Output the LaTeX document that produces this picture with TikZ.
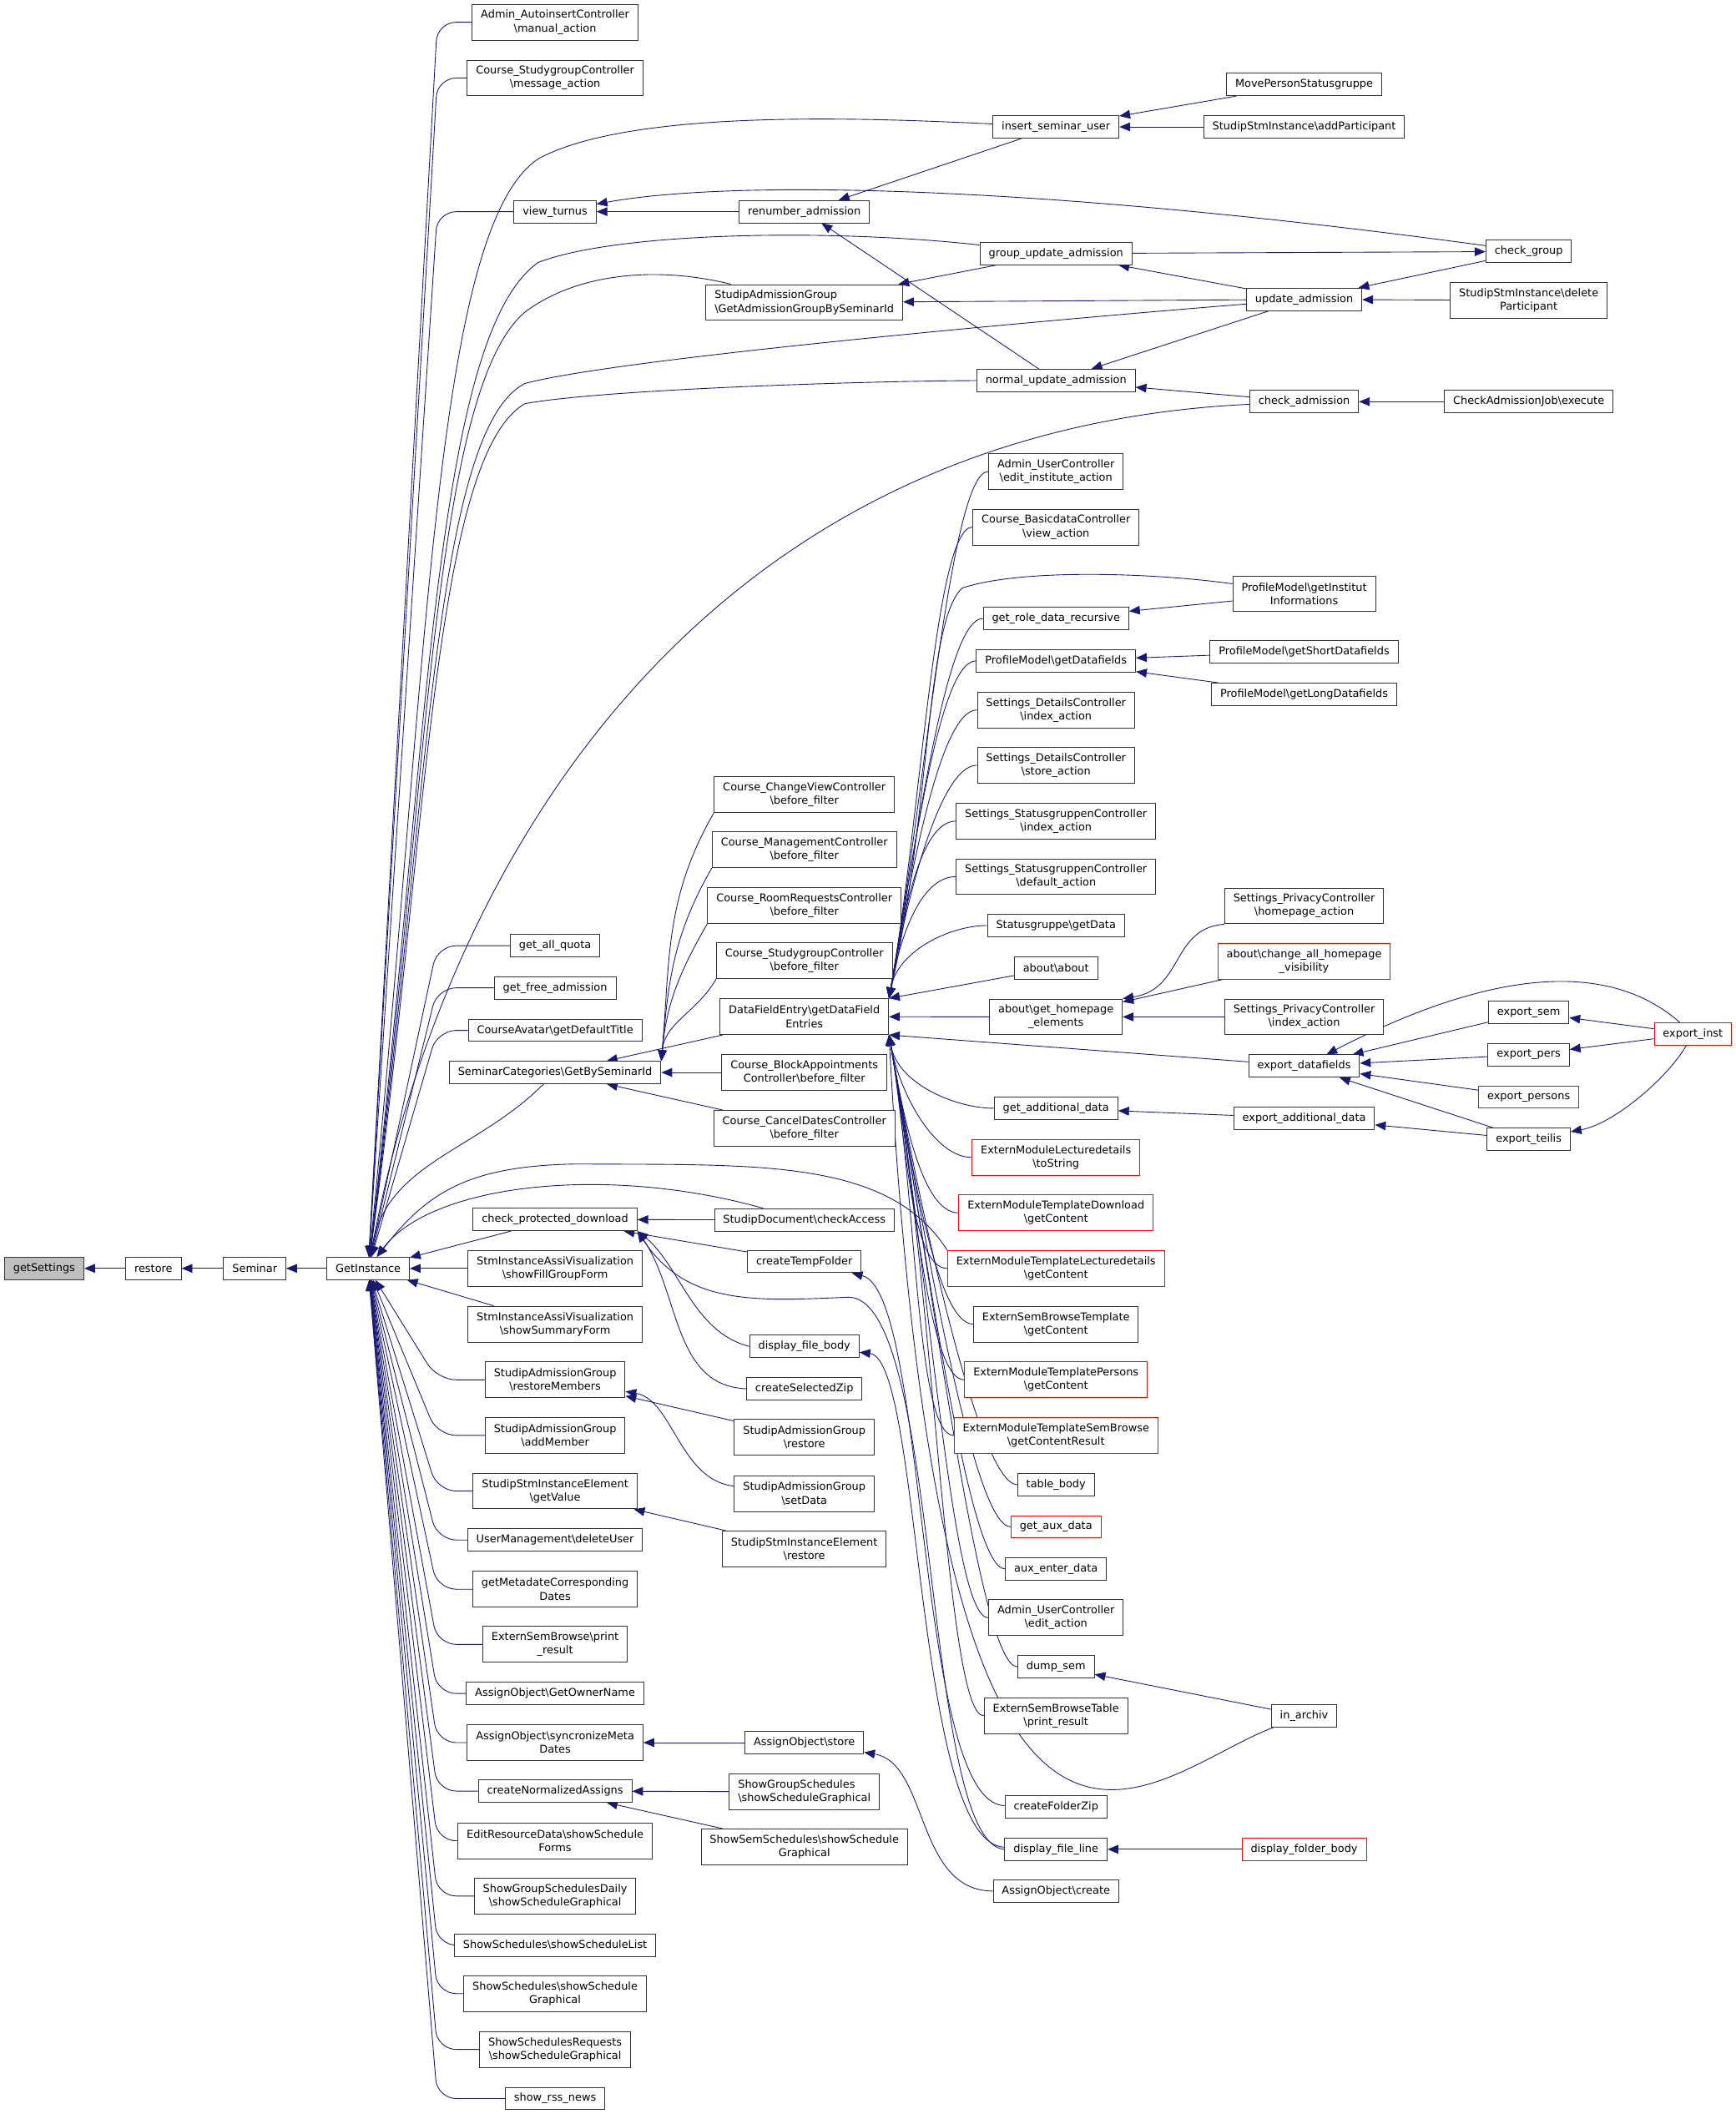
\documentclass[tikz,border=0pt]{standalone}
\usepackage{fontspec}
\setmainfont{DejaVu Sans}
\usetikzlibrary{arrows.meta}
\definecolor{edgeblue}{RGB}{25,25,112}
\newcommand{\bsl}{\textbackslash}
\pgfdeclarelayer{background}
\pgfsetlayers{background,main}

\begin{document}
\begin{tikzpicture}[x=1pt,y=1pt,>={Triangle[length=8pt,width=6.5pt]},
    fn/.style={draw=black!80,line width=0.6pt,fill=white,font=\fontsize{8}{10}\selectfont,align=center,inner xsep=6.5pt,inner ysep=2pt,minimum height=16.6pt},
    two/.style={minimum height=26.6pt},
    ext/.style={fn,draw=red},
    root/.style={fn,fill=black!25},
    call/.style={<-,draw=edgeblue,line width=0.55pt},
    fan/.style={call,rounded corners=14pt},
    field up/.style={call,out=80,in=180,in distance=28pt},
    field down/.style={call,out=-80,in=180,in distance=28pt}]

\useasboundingbox (0,0) rectangle (1290,-1571);
\coordinate (bend) at (325,0);

% main chain
\node[root] (getSettings) at (32.8,-942.6) {getSettings};
\node[fn] (restore) at (114,-942.6) {restore};
\node[fn] (Seminar) at (189.3,-942.6) {Seminar};
\node[fn] (GetInstance) at (273.6,-942.6) {GetInstance};

% direct callers of GetInstance
\node[fn,two] (autoinsert) at (412.5,-16.5) {Admin\_AutoinsertController\\\bsl manual\_action};
\node[fn,two] (sgmessage) at (412.5,-58) {Course\_StudygroupController\\\bsl message\_action};
\node[fn] (viewturnus) at (412.5,-157.3) {view\_turnus};
\node[fn] (allquota) at (412.5,-702.8) {get\_all\_quota};
\node[fn] (freeadmission) at (412.5,-734.1) {get\_free\_admission};
\node[fn] (avatartitle) at (412.5,-765.7) {CourseAvatar\bsl getDefaultTitle};
\node[fn] (bysemid) at (412.5,-797) {SeminarCategories\bsl GetBySeminarId};
\node[fn] (protdownload) at (412.5,-906.3) {check\_protected\_download};
\node[fn,two] (fillgroup) at (412.5,-942.6) {StmInstanceAssiVisualization\\\bsl showFillGroupForm};
\node[fn,two] (summaryform) at (412.5,-984) {StmInstanceAssiVisualization\\\bsl showSummaryForm};
\node[fn,two] (restoremembers) at (412.5,-1025.4) {StudipAdmissionGroup\\\bsl restoreMembers};
\node[fn,two] (addmember) at (412.5,-1066.7) {StudipAdmissionGroup\\\bsl addMember};
\node[fn,two] (getvalue) at (412.5,-1108) {StudipStmInstanceElement\\\bsl getValue};
\node[fn] (deleteuser) at (412.5,-1144.4) {UserManagement\bsl deleteUser};
\node[fn,two] (metadates) at (412.5,-1181) {getMetadateCorresponding\\Dates};
\node[fn,two] (printresult) at (412.5,-1222) {ExternSemBrowse\bsl print\\\_result};
\node[fn] (ownername) at (412.5,-1258.5) {AssignObject\bsl GetOwnerName};
\node[fn,two] (syncmeta) at (412.5,-1295) {AssignObject\bsl syncronizeMeta\\Dates};
\node[fn] (normassigns) at (412.5,-1331) {createNormalizedAssigns};
\node[fn,two] (resforms) at (412.5,-1368) {EditResourceData\bsl showSchedule\\Forms};
\node[fn,two] (groupdaily) at (412.5,-1409) {ShowGroupSchedulesDaily\\\bsl showScheduleGraphical};
\node[fn] (schedlist) at (412.5,-1445.5) {ShowSchedules\bsl showScheduleList};
\node[fn,two] (schedgraph) at (412.5,-1481.5) {ShowSchedules\bsl showSchedule\\Graphical};
\node[fn,two] (schedrequests) at (412.5,-1523) {ShowSchedulesRequests\\\bsl showScheduleGraphical};
\node[fn] (rssnews) at (412.5,-1559.5) {show\_rss\_news};

% second column
\node[fn] (renumber) at (597.7,-157.3) {renumber\_admission};
\node[fn,two,align=left] (getadmgroup) at (597.7,-224.8) {StudipAdmissionGroup\\\bsl GetAdmissionGroupBySeminarId};
\node[fn,two] (changeview) at (597.7,-590.5) {Course\_ChangeViewController\\\bsl before\_filter};
\node[fn,two] (management) at (597.7,-631.5) {Course\_ManagementController\\\bsl before\_filter};
\node[fn,two] (roomrequests) at (597.7,-673) {Course\_RoomRequestsController\\\bsl before\_filter};
\node[fn,two] (sgfilter) at (597.7,-714) {Course\_StudygroupController\\\bsl before\_filter};
\node[fn,two] (datafieldentries) at (597.7,-755.5) {DataFieldEntry\bsl getDataField\\Entries};
\node[fn,two] (blockappointments) at (597.7,-797) {Course\_BlockAppointments\\Controller\bsl before\_filter};
\node[fn,two] (canceldates) at (597.7,-838.5) {Course\_CancelDatesController\\\bsl before\_filter};
\node[fn] (checkaccess) at (597.7,-906.5) {StudipDocument\bsl checkAccess};
\node[fn] (tempfolder) at (597.7,-937.5) {createTempFolder};
\node[fn] (filebody) at (597.7,-1000.5) {display\_file\_body};
\node[fn] (selectedzip) at (597.7,-1032) {createSelectedZip};
\node[fn,two] (admrestore) at (597.7,-1068) {StudipAdmissionGroup\\\bsl restore};
\node[fn,two] (admsetdata) at (597.7,-1110) {StudipAdmissionGroup\\\bsl setData};
\node[fn,two] (elemrestore) at (597.7,-1151) {StudipStmInstanceElement\\\bsl restore};
\node[fn] (assignstore) at (597.7,-1295) {AssignObject\bsl store};
\node[fn,two,align=left] (groupgraph) at (597.7,-1331.5) {ShowGroupSchedules\\\bsl showScheduleGraphical};
\node[fn,two] (semgraph) at (597.7,-1372.5) {ShowSemSchedules\bsl showSchedule\\Graphical};

% third column
\node[fn] (insertuser) at (784.7,-94.3) {insert\_seminar\_user};
\node[fn] (groupupdate) at (784.7,-188.4) {group\_update\_admission};
\node[fn] (normalupdate) at (784.7,-282.7) {normal\_update\_admission};
\node[fn,two] (editinstitute) at (784.7,-350.4) {Admin\_UserController\\\bsl edit\_institute\_action};
\node[fn,two] (basicdata) at (784.7,-391.7) {Course\_BasicdataController\\\bsl view\_action};
\node[fn] (roledata) at (784.7,-459.6) {get\_role\_data\_recursive};
\node[fn] (getdatafields) at (784.7,-491.1) {ProfileModel\bsl getDatafields};
\node[fn,two] (detailsindex) at (784.7,-527.6) {Settings\_DetailsController\\\bsl index\_action};
\node[fn,two] (detailsstore) at (784.7,-568.7) {Settings\_DetailsController\\\bsl store\_action};
\node[fn,two] (statusindex) at (784.7,-610.2) {Settings\_StatusgruppenController\\\bsl index\_action};
\node[fn,two] (statusdefault) at (784.7,-651.5) {Settings\_StatusgruppenController\\\bsl default\_action};
\node[fn] (statusgetdata) at (784.7,-687.8) {Statusgruppe\bsl getData};
\node[fn] (aboutabout) at (784.7,-719.3) {about\bsl about};
\node[fn,two] (homepageelements) at (784.7,-755.7) {about\bsl get\_homepage\\\_elements};
\node[fn] (additionaldata) at (784.7,-823.6) {get\_additional\_data};
\node[ext,two] (lecturetostring) at (784.7,-860.1) {ExternModuleLecturedetails\\\bsl toString};
\node[ext,two] (tpldownload) at (784.7,-901.3) {ExternModuleTemplateDownload\\\bsl getContent};
\node[ext,two] (tpllecture) at (784.7,-942.6) {ExternModuleTemplateLecturedetails\\\bsl getContent};
\node[fn,two] (browsetemplate) at (784.7,-984) {ExternSemBrowseTemplate\\\bsl getContent};
\node[ext,two] (tplpersons) at (784.7,-1025.4) {ExternModuleTemplatePersons\\\bsl getContent};
\node[ext,two] (tplsembrowse) at (784.7,-1066.7) {ExternModuleTemplateSemBrowse\\\bsl getContentResult};
\node[fn] (tablebody) at (784.7,-1103.3) {table\_body};
\node[ext] (auxdata) at (784.7,-1134.6) {get\_aux\_data};
\node[fn] (auxenter) at (784.7,-1165.9) {aux\_enter\_data};
\node[fn,two] (editaction) at (784.7,-1202.2) {Admin\_UserController\\\bsl edit\_action};
\node[fn] (dumpsem) at (784.7,-1238.6) {dump\_sem};
\node[fn,two] (tableprint) at (784.7,-1275.1) {ExternSemBrowseTable\\\bsl print\_result};
\node[fn] (folderzip) at (784.7,-1342.9) {createFolderZip};
\node[fn] (fileline) at (784.7,-1374.3) {display\_file\_line};
\node[fn] (assigncreate) at (784.7,-1405.6) {AssignObject\bsl create};

% fourth column
\node[fn] (movestatus) at (969.1,-62.8) {MovePersonStatusgruppe};
\node[fn] (addparticipant) at (969.1,-94.3) {StudipStmInstance\bsl addParticipant};
\node[fn] (updateadmission) at (969.1,-222.5) {update\_admission};
\node[fn] (checkadmission) at (969.1,-298.5) {check\_admission};
\node[fn,two] (institutinfo) at (969.1,-441.3) {ProfileModel\bsl getInstitut\\Informations};
\node[fn] (shortdatafields) at (969.1,-484.4) {ProfileModel\bsl getShortDatafields};
\node[fn] (longdatafields) at (969.1,-516) {ProfileModel\bsl getLongDatafields};
\node[fn,two] (privacyhomepage) at (969.1,-673.2) {Settings\_PrivacyController\\\bsl homepage\_action};
\node[ext,two] (changevisibility) at (969.1,-714.3) {about\bsl change\_all\_homepage\\\_visibility};
\node[fn,two] (privacyindex) at (969.1,-755.7) {Settings\_PrivacyController\\\bsl index\_action};
\node[fn] (exportdatafields) at (969.1,-792.2) {export\_datafields};
\node[fn] (exportadditional) at (969.1,-831) {export\_additional\_data};
\node[fn] (inarchiv) at (969.1,-1275.1) {in\_archiv};
\node[ext] (folderbody) at (969.1,-1374.3) {display\_folder\_body};

% fifth column
\node[fn] (checkgroup) at (1136,-186.9) {check\_group};
\node[fn,two] (deleteparticipant) at (1136,-223.2) {StudipStmInstance\bsl delete\\Participant};
\node[fn] (admissionjob) at (1136,-298.5) {CheckAdmissionJob\bsl execute};
\node[fn] (exportsem) at (1136,-752.4) {export\_sem};
\node[fn] (exportpers) at (1136,-783.7) {export\_pers};
\node[ext] (exportpersons) at (1136,-815.3) {export\_persons};
\node[fn] (exportteilis) at (1136,-846.7) {export\_teilis};
\node[ext] (exportinst) at (1258,-768.3) {export\_inst};

\begin{pgfonlayer}{background}
% chain
\draw[call] (getSettings) -- (restore);
\draw[call] (restore) -- (Seminar);
\draw[call] (Seminar) -- (GetInstance);

% GetInstance fan
\foreach \n in {autoinsert,sgmessage,viewturnus,allquota,freeadmission,avatartitle,restoremembers,addmember,getvalue,deleteuser,metadates,printresult,ownername,syncmeta,normassigns,resforms,groupdaily,schedlist,schedgraph,schedrequests,rssnews}
  \draw[fan] (GetInstance) -- (\n.west -| bend) -- (\n.west);
\draw[call] (GetInstance) to[out=80,in=-135] (bysemid);
\draw[call] (GetInstance) -- (protdownload);
\draw[call] (GetInstance) -- (fillgroup);
\draw[call] (GetInstance) -- (summaryform);
\draw[call] (GetInstance) .. controls (318,-500) and (322,-170) .. (400,-118) .. controls (470,-80) and (650,-88) .. (insertuser);
\draw[call] (GetInstance) .. controls (318,-560) and (322,-250) .. (400,-195) .. controls (460,-172) and (620,-170) .. (groupupdate);
\draw[call] (GetInstance) .. controls (318,-580) and (322,-290) .. (390,-232) .. controls (430,-202) and (490,-198) .. (getadmgroup);
\draw[call] (GetInstance) .. controls (318,-600) and (322,-320) .. (390,-285) .. controls (460,-266) and (800,-236) .. (updateadmission);
\draw[call] (GetInstance) .. controls (318,-620) and (322,-340) .. (390,-300) .. controls (450,-289) and (650,-283) .. (normalupdate);
\draw[call] (GetInstance) .. controls (330,-640) and (520,-320) .. (checkadmission);
\draw[call] (GetInstance) .. controls (320,-880) and (450,-865) .. (checkaccess);
\draw[call] (GetInstance) .. controls (318,-885) and (350,-866) .. (430,-865) .. controls (560,-866) and (660,-860) .. (tpllecture.north west);

% second column links
\draw[call] (viewturnus) -- (renumber);
\draw[call] (viewturnus) .. controls (540,-134) and (760,-136) .. (checkgroup);
\foreach \n in {changeview,management,roomrequests,sgfilter}
  \draw[call] (bysemid.north east) to[out=85,in=-120] (\n.south west);
\draw[call] (bysemid) -- (datafieldentries);
\draw[call] (bysemid) -- (blockappointments);
\draw[call] (bysemid) -- (canceldates);
\draw[call] (protdownload) -- (checkaccess);
\draw[call] (protdownload) -- (tempfolder);
\draw[call] (protdownload.south east) .. controls (505,-940) and (515,-990) .. (filebody.west);
\draw[call] (protdownload.south east) .. controls (505,-960) and (500,-1030) .. (selectedzip.west);
\draw[call] (protdownload.south east) .. controls (510,-970) and (560,-967) .. (630,-964) .. controls (700,-962) and (685,-1370) .. (fileline.west);
\draw[call] (restoremembers) -- (admrestore);
\draw[call] (restoremembers) .. controls (500,-1040) and (505,-1100) .. (admsetdata);
\draw[call] (getvalue) -- (elemrestore);
\draw[call] (syncmeta) -- (assignstore);
\draw[call] (normassigns) -- (groupgraph);
\draw[call] (normassigns) -- (semgraph);

% third column links
\draw[call] (renumber) -- (insertuser);
\draw[call] (renumber) -- (normalupdate);
\draw[call] (getadmgroup) -- (groupupdate);
\draw[call] (getadmgroup) -- (updateadmission);
\foreach \n in {editinstitute,basicdata,roledata,getdatafields,detailsindex,detailsstore,statusindex,statusdefault,statusgetdata}
  \draw[field up] (datafieldentries.north east) to (\n.west);
\foreach \n in {additionaldata,lecturetostring,tpldownload,tpllecture,browsetemplate,tplpersons,tplsembrowse,tablebody,auxdata,auxenter,editaction,dumpsem,tableprint}
  \draw[field down] (datafieldentries.south east) to (\n.west);
\draw[call] (datafieldentries.north east) -- (aboutabout);
\draw[call] (datafieldentries) -- (homepageelements);
\draw[call] (datafieldentries.south east) -- (exportdatafields);
\draw[call] (datafieldentries.north east) .. controls (692,-600) and (688,-462) .. (715,-437) .. controls (760,-422) and (860,-426) .. (institutinfo);
\draw[call] (datafieldentries.south east) .. controls (700,-1500) and (850,-1320) .. (inarchiv);
\draw[call] (tempfolder) .. controls (690,-960) and (680,-1340) .. (folderzip);
\draw[call] (filebody) .. controls (685,-1010) and (680,-1370) .. (fileline);
\draw[call] (assignstore) .. controls (690,-1310) and (680,-1405) .. (assigncreate);

% fourth and fifth column links
\draw[call] (insertuser) -- (movestatus);
\draw[call] (insertuser) -- (addparticipant);
\draw[call] (groupupdate) -- (updateadmission);
\draw[call] (checkgroup) -- (groupupdate);
\draw[call] (normalupdate) -- (updateadmission);
\draw[call] (normalupdate) -- (checkadmission);
\draw[call] (updateadmission) -- (checkgroup);
\draw[call] (updateadmission) -- (deleteparticipant);
\draw[call] (checkadmission) -- (admissionjob);
\draw[call] (roledata) -- (institutinfo);
\draw[call] (getdatafields) -- (shortdatafields);
\draw[call] (getdatafields) -- (longdatafields);
\draw[call] (homepageelements.north east) .. controls (880,-735) and (870,-690) .. (privacyhomepage.south west);
\draw[call] (homepageelements) -- (changevisibility);
\draw[call] (homepageelements) -- (privacyindex);
\draw[call] (additionaldata) -- (exportadditional);
\draw[call] (dumpsem) -- (inarchiv);
\draw[call] (fileline) -- (folderbody);
\draw[call] (exportdatafields) -- (exportsem);
\draw[call] (exportdatafields) -- (exportpers);
\draw[call] (exportdatafields) -- (exportpersons);
\draw[call] (exportdatafields) -- (exportteilis);
\draw[call] (exportdatafields) .. controls (1070,-740) and (1180,-700) .. (exportinst);
\draw[call] (exportadditional) -- (exportteilis);
\draw[call] (exportsem) -- (exportinst);
\draw[call] (exportpers) -- (exportinst);
\draw[call] (exportteilis) .. controls (1200,-835) and (1240,-800) .. (exportinst);
\end{pgfonlayer}

\end{tikzpicture}
\end{document}
